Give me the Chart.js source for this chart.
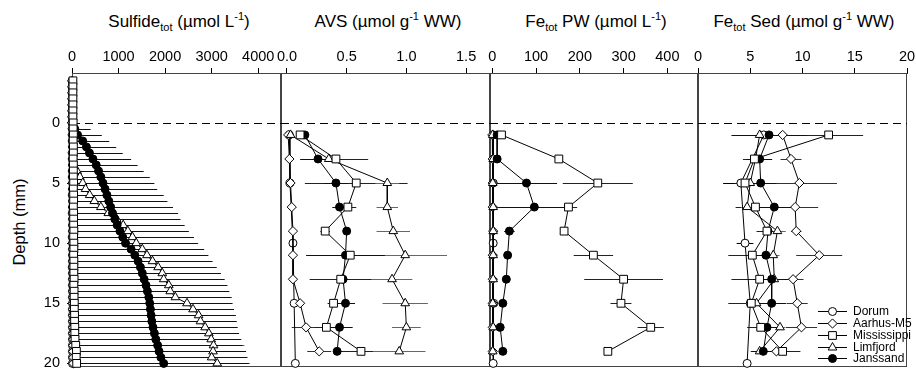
<!DOCTYPE html>
<html>
<head>
<meta charset="utf-8">
<script src="https://cdn.jsdelivr.net/npm/chart.js@4.4.1/dist/chart.umd.min.js"></script>
<style>
  html, body { margin: 0; padding: 0; background: #fff; overflow: hidden; }
  #wrap { position: relative; width: 916px; height: 369px; overflow: hidden;
          font-family: "Liberation Sans", Arial, sans-serif; color: #000; }
  #wrap canvas { position: absolute; top: 0; }
  .ttl { position: absolute; top: 13px; font-size: 17px; line-height: 17px; white-space: nowrap;
         transform: translateX(-50%); }
  .ttl sub { font-size: 11px; vertical-align: -4px; line-height: 0; }
  .ttl sup { font-size: 11px; vertical-align: 7px; line-height: 0; }
  #ylab { position: absolute; left: 19px; top: 222px; font-size: 16.5px; white-space: nowrap;
          transform: translate(-50%, -50%) rotate(-90deg); }
</style>
</head>
<body>
<div id="wrap">
  <div class="ttl" style="left:179px">Sulfide<sub>tot</sub> (µmol L<sup>-1</sup>)</div>
  <div class="ttl" style="left:388px">AVS (µmol g<sup>-1</sup> WW)</div>
  <div class="ttl" style="left:596px">Fe<sub>tot</sub> PW (µmol L<sup>-1</sup>)</div>
  <div class="ttl" style="left:804px">Fe<sub>tot</sub> Sed (µmol g<sup>-1</sup> WW)</div>
  <div id="ylab">Depth (mm)</div>
</div>
<script>
// ---------- data ----------
const seriesNames = ['Dorum', 'Aarhus-M5', 'Mississippi', 'Limfjord', 'Janssand'];

// tick labels
const sulfTicks = [0, 1000, 2000, 3000, 4000];
const avsTicks = [0, 0.5, 1.0, 1.5];
const pwTicks = [0, 100, 200, 300, 400];
const sedTicks = [0, 5, 10, 15, 20];
const depthTicks = [0, 5, 10, 15, 20];

// Sulfide profiles (microsensor, 0.5 mm steps)
const depthSurf = [-3.5, -3, -2.5, -2, -1.5, -1, -0.5, 0, 0.5, 1, 1.5, 2, 2.5, 3, 3.5, 4, 4.5, 5, 5.5, 6,
  6.5, 7, 7.5, 8, 8.5, 9, 9.5, 10, 10.5, 11, 11.5, 12, 12.5, 13, 13.5, 14, 14.5, 15, 15.5, 16,
  16.5, 17, 17.5, 18, 18.5, 19, 19.5, 20];
const sulfDorum = [0, 0, 0, 0, 0, 0, 0, 0, 5, 5, 5, 10, 5, 5, 10, 5, 5, 10, 10, 5, 10, 10, 5, 10,
  10, 10, 5, 10, 10, 10, 10, 5, 10, 10, 10, 10, 10, 10, 10, 10, 10, 10, 10, 10, 10, 10, 10, 10];
const sulfAarhus = [5, 5, 5, 5, 5, 5, 5, 5, 10, 10, 15, 15, 10, 15, 15, 15, 15, 20, 15, 20, 20, 15, 20, 20,
  20, 20, 25, 20, 20, 25, 20, 20, 25, 25, 20, 25, 25, 25, 20, 25, 25, 25, 25, 30, 25, 25, 30, 30];
const sulfMiss = [20, 20, 20, 20, 20, 20, 20, 25, 25, 30, 25, 30, 30, 25, 30, 30, 30, 35, 30, 35, 35, 30, 35, 35,
  35, 40, 35, 40, 40, 35, 40, 40, 40, 45, 40, 45, 45, 50, 50, 55, 55, 60, 60, 65, 80, 95, 90, 100];

const depthLimf = [4, 4.5, 5, 5.5, 6, 6.5, 7, 7.5, 8, 8.5, 9, 9.5, 10, 10.5, 11, 11.5, 12, 12.5, 13, 13.5,
  14, 14.5, 15, 15.5, 16, 16.5, 17, 17.5, 18, 18.5, 19, 19.5, 20];
const sulfLimf = [110, 170, 230, 290, 380, 480, 620, 780, 960, 1100, 1200, 1300, 1380, 1510, 1610, 1730, 1850,
  1940, 1970, 2080, 2110, 2220, 2470, 2600, 2720, 2760, 2860, 2940, 2990, 3040, 3030, 3000, 3120];
const sulfLimfSd = [40, 55, 85, 95, 135, 150, 200, 215, 260, 265, 300, 305, 340, 345, 380, 385, 420,
  425, 455, 470, 480, 515, 520, 560, 565, 600, 610, 640, 650, 665, 660, 690, 700];

const depthJans = [0.5, 1, 1.5, 2, 2.5, 3, 3.5, 4, 4.5, 5, 5.5, 6, 6.5, 7, 7.5, 8, 8.5, 9, 9.5, 10,
  10.5, 11, 11.5, 12, 12.5, 13, 13.5, 14, 14.5, 15, 15.5, 16, 16.5, 17, 17.5, 18, 18.5, 19, 19.5, 20];
const sulfJans = [60, 120, 230, 310, 375, 450, 520, 570, 620, 665, 710, 750, 790, 830, 870, 920, 970, 1030,
  1090, 1150, 1270, 1350, 1420, 1470, 1510, 1550, 1590, 1620, 1650, 1670, 1685, 1700, 1715, 1740, 1770,
  1800, 1840, 1870, 1910, 1970];
const sulfJansSd = [340, 520, 570, 640, 715, 820, 890, 970, 1050, 1105, 1120, 1220, 1260, 1340, 1410, 1410,
  1450, 1480, 1530, 1560, 1570, 1580, 1600, 1640, 1690, 1730, 1750, 1760, 1780, 1780, 1795, 1820, 1825,
  1820, 1820, 1830, 1820, 1870, 1860, 1830];

// core slices (2 mm)
const depthCore = [1, 3, 5, 7, 9, 11, 13, 15, 17, 19];
const depthDorum = [1, 5, 10, 15, 20];

// AVS
const avsDorum = [0.02, 0.025, 0.05, 0.06, 0.07];
const avsAarhus = [0.01, 0.02, 0.03, 0.04, 0.05, 0.05, 0.05, 0.11, 0.16, 0.27];
const avsAarhusSd = [0, 0, 0, 0, 0, 0, 0, 0.02, 0.12, 0.1];
const avsMiss = [0.11, 0.41, 0.58, 0.51, 0.32, 0.53, 0.45, 0.39, 0.33, 0.62];
const avsMissSd = [0.02, 0.27, 0.43, 0.07, 0.04, 0.04, 0.26, 0.05, 0.1, 0.2];
const avsLimf = [0.03, 0.35, 0.84, 0.84, 0.89, 0.99, 0.88, 0.99, 1.0, 0.94];
const avsLimfSd = [0, 0.05, 0.1, 0.09, 0.14, 0.35, 0.17, 0.19, 0.12, 0.22];
const avsJans = [0.15, 0.26, 0.41, 0.44, 0.50, 0.49, 0.47, 0.49, 0.44, 0.42];
const avsJansSd = [0.01, 0.15, 0.1, 0.06, 0.03, 0.33, 0.05, 0.08, 0.11, 0.03];

// Fe tot pore water
const pwDorum = [2, 2, 2, 3, 2];
const pwAarhus = [0, 1, 1, 1, 2, 1, 1, 1, 1, 1];
const pwMiss = [21, 152, 241, 174, 164, 231, 300, 294, 362, 264];
const pwMissSd = [3, 5, 80, 20, 8, 45, 90, 24, 30, 0];
const pwLimf = [1, 2, 1, 2, 2, 2, 2, 1, 2, 1];
const pwJans = [11, 11, 78, 96, 39, 35, 32, 24, 18, 24];
const pwJansSd = [2, 3, 70, 85, 12, 0, 6, 0, 0, 0];

// Fe tot sediment
const sedDorum = [6.3, 4.1, 4.5, 5.0, 4.7];
const sedDorumSd = [0, 1.7, 0.8, 1.0, 0];
const sedAarhus = [8.1, 8.9, 9.7, 9.3, 9.4, 11.6, 9.1, 9.5, 9.9, 7.5];
const sedAarhusSd = [1.0, 1.0, 3.6, 2.2, 0.5, 2.2, 1.0, 1.0, 1.5, 0.8];
const sedMiss = [12.5, 5.4, 4.5, 5.5, 6.6, 5.2, 5.9, 5.1, 6.0, 8.1];
const sedMissSd = [3.3, 1.1, 1.0, 1.9, 1.0, 2.3, 2.7, 2.2, 1.3, 1.7];
const sedLimf = [5.9, 5.5, 5.0, 4.7, 7.6, 7.2, 7.3, 5.6, 7.85, 5.9];
const sedLimfSd = [0.5, 0.4, 0.5, 0.6, 0.8, 0.6, 0.7, 0.6, 0.5, 0.6];
const sedJans = [6.8, 5.9, 6.0, 7.3, 6.7, 6.5, 7.05, 7.05, 6.6, 6.25];
const sedJansSd = [3.6, 1.2, 1.5, 2.0, 0.5, 1.0, 1.8, 1.4, 1.0, 1.2];

// ---------- styles ----------
const FONT = '"Liberation Sans", Arial, sans-serif';
const styles = {
  'Dorum':       { shape: 'circle',   r: 4,   fill: '#fff', err: '#000' },
  'Aarhus-M5':   { shape: 'rectRot',  r: 4.6, fill: '#fff', err: '#333' },
  'Mississippi': { shape: 'rect',     r: 5.5, fill: '#fff', err: '#222' },
  'Limfjord':    { shape: 'triangle', r: 5,   fill: '#fff', err: '#666' },
  'Janssand':    { shape: 'circle',   r: 4,   fill: '#000', err: '#111' }
};
// lower order is painted on top
const drawOrder = { 'Mississippi': 0, 'Janssand': 1, 'Limfjord': 2, 'Aarhus-M5': 3, 'Dorum': 4 };

const makeSeries = (name, depths, vals, sds) => {
  const st = styles[name];
  return {
    label: name,
    data: depths.map((d, i) => ({ x: vals[i], y: d })),
    errors: sds || null,
    errorColor: st.err,
    showLine: true,
    borderColor: '#000',
    borderWidth: 1,
    tension: 0,
    pointStyle: st.shape,
    pointRadius: st.r,
    pointHoverRadius: st.r,
    pointBackgroundColor: st.fill,
    pointBorderColor: '#000',
    pointBorderWidth: 1,
    order: drawOrder[name],
    clip: false
  };
};

// box round each panel + dashed sediment surface line
const framePlugin = {
  id: 'frame',
  beforeDatasetsDraw(chart) {
    const { ctx, chartArea: a, scales: { y } } = chart;
    ctx.save();
    ctx.strokeStyle = '#444';
    ctx.lineWidth = 1;
    ctx.strokeRect(a.left + 0.5, a.top + 0.5, a.right - a.left - 1, a.bottom - a.top - 1);
    const y0 = Math.round(y.getPixelForValue(0)) + 0.5;
    ctx.strokeStyle = '#000';
    ctx.setLineDash([8, 5]);
    ctx.beginPath();
    ctx.moveTo(a.left, y0);
    ctx.lineTo(a.right, y0);
    ctx.stroke();
    ctx.restore();
  }
};

// horizontal SD bars
const errorBarPlugin = {
  id: 'errorBars',
  beforeDatasetsDraw(chart) {
    const { ctx, chartArea: a, scales: { x, y } } = chart;
    chart.data.datasets.forEach(ds => {
      if (!ds.errors) return;
      ctx.save();
      ctx.strokeStyle = ds.errorColor;
      ctx.lineWidth = 1;
      ds.data.forEach((p, i) => {
        const e = ds.errors[i];
        if (!e) return;
        const x0 = Math.max(x.getPixelForValue(p.x - e), a.left);
        const x1 = Math.min(x.getPixelForValue(p.x + e), a.right);
        const py = Math.round(y.getPixelForValue(p.y)) + 0.5;
        ctx.beginPath();
        ctx.moveTo(x0, py);
        ctx.lineTo(x1, py);
        ctx.stroke();
      });
      ctx.restore();
    });
  }
};

// legend in the lower right of the last panel
const legendPlugin = {
  id: 'seriesLegend',
  afterDatasetsDraw(chart) {
    const { ctx, chartArea: a } = chart;
    ctx.save();
    seriesNames.forEach((name, i) => {
      const st = styles[name];
      const yy = Math.round(311 + i * 11.85) + 0.5;
      ctx.strokeStyle = '#000';
      ctx.lineWidth = 1;
      ctx.beginPath();
      ctx.moveTo(a.left + 120, yy);
      ctx.lineTo(a.left + 149, yy);
      ctx.stroke();
      ctx.fillStyle = st.fill;
      Chart.helpers.drawPoint(ctx, { pointStyle: st.shape, radius: st.r, borderWidth: 1, rotation: 0 },
        a.left + 134.5, yy);
      ctx.fillStyle = '#000';
      ctx.font = '12px ' + FONT;
      ctx.textBaseline = 'middle';
      ctx.textAlign = 'left';
      ctx.fillText(name, a.left + 155, yy);
    });
    ctx.restore();
  }
};

const panels = [
  { left: 72, right: 281, xMin: 0, xMax: 4490, ticks: sulfTicks, dec: 0, yAxis: true,
    datasets: [
      makeSeries('Dorum', depthSurf, sulfDorum),
      makeSeries('Aarhus-M5', depthSurf, sulfAarhus),
      makeSeries('Mississippi', depthSurf, sulfMiss),
      makeSeries('Limfjord', depthLimf, sulfLimf, sulfLimfSd),
      makeSeries('Janssand', depthJans, sulfJans, sulfJansSd)
    ] },
  { left: 281, right: 490, xMin: -0.05, xMax: 1.70, ticks: avsTicks, dec: 1,
    datasets: [
      makeSeries('Dorum', depthDorum, avsDorum),
      makeSeries('Aarhus-M5', depthCore, avsAarhus, avsAarhusSd),
      makeSeries('Mississippi', depthCore, avsMiss, avsMissSd),
      makeSeries('Limfjord', depthCore, avsLimf, avsLimfSd),
      makeSeries('Janssand', depthCore, avsJans, avsJansSd)
    ] },
  { left: 490, right: 698, xMin: -5.3, xMax: 470, ticks: pwTicks, dec: 0,
    datasets: [
      makeSeries('Dorum', depthDorum, pwDorum),
      makeSeries('Aarhus-M5', depthCore, pwAarhus),
      makeSeries('Mississippi', depthCore, pwMiss, pwMissSd),
      makeSeries('Limfjord', depthCore, pwLimf),
      makeSeries('Janssand', depthCore, pwJans, pwJansSd)
    ] },
  { left: 698, right: 907, xMin: 0, xMax: 20, ticks: sedTicks, dec: 0, legend: true,
    datasets: [
      makeSeries('Dorum', depthDorum, sedDorum, sedDorumSd),
      makeSeries('Aarhus-M5', depthCore, sedAarhus, sedAarhusSd),
      makeSeries('Mississippi', depthCore, sedMiss, sedMissSd),
      makeSeries('Limfjord', depthCore, sedLimf, sedLimfSd),
      makeSeries('Janssand', depthCore, sedJans, sedJansSd)
    ] }
];

const wrap = document.getElementById('wrap');
const PAD = 20;
const AREA_TOP = 73;
const AREA_BOTTOM = 367;

panels.forEach(p => {
  const canvas = document.createElement('canvas');
  const cLeft = p.yAxis ? 0 : p.left - PAD;
  canvas.width = p.right + PAD - cLeft;
  canvas.height = 369;
  canvas.style.left = cLeft + 'px';
  wrap.appendChild(canvas);

  new Chart(canvas, {
    type: 'scatter',
    data: { datasets: p.datasets },
    options: {
      responsive: false,
      animation: false,
      events: [],
      // autoPadding would reserve room for marker overflow and shrink the plot
      layout: { autoPadding: false, padding: { left: p.yAxis ? 0 : PAD, right: PAD, top: 0, bottom: 369 - AREA_BOTTOM } },
      plugins: { legend: { display: false }, tooltip: { enabled: false } },
      scales: {
        x: {
          type: 'linear',
          position: 'top',
          min: p.xMin,
          max: p.xMax,
          afterBuildTicks: s => { s.ticks = p.ticks.map(v => ({ value: v })); },
          afterFit: s => { s.height = AREA_TOP; },
          grid: { drawOnChartArea: false, drawTicks: true, tickLength: 5, color: '#000', tickColor: '#000' },
          border: { display: true, color: '#222', width: 1 },
          ticks: {
            color: '#000',
            font: { family: FONT, size: 14.5 },
            padding: 2,
            maxRotation: 0,
            autoSkip: false,
            callback: v => Number(v).toFixed(p.dec)
          }
        },
        y: {
          type: 'linear',
          reverse: true,
          min: -4.15,
          max: 20.3,
          display: !!p.yAxis,
          afterBuildTicks: s => { s.ticks = depthTicks.map(v => ({ value: v })); },
          // only the first panel carries a visible depth axis; keep the plot height fixed
          afterFit: s => {
            if (p.yAxis) s.width = 72;
            s.paddingTop = 0;
            s.paddingBottom = 0;
          },
          grid: { drawOnChartArea: false, drawTicks: true, tickLength: 5, color: '#000', tickColor: '#000' },
          border: { display: true, color: '#222', width: 1 },
          ticks: {
            color: '#000',
            font: { family: FONT, size: 14.5 },
            padding: 7,
            autoSkip: false
          }
        }
      }
    },
    plugins: p.legend ? [framePlugin, errorBarPlugin, legendPlugin] : [framePlugin, errorBarPlugin]
  });
});
</script>
</body>
</html>
